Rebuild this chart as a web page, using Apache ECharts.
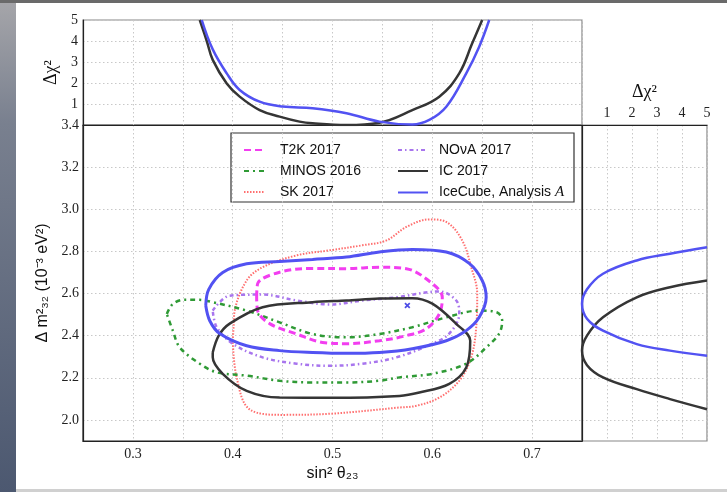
<!DOCTYPE html>
<html>
<head>
    <meta charset="utf-8">
    <title>ECharts</title>
    <script src="https://cdn.jsdelivr.net/npm/echarts@6/dist/echarts.min.js"></script>
</head>
<body style="margin:0;background:#fff">
    <div id="main" style="width: 727px;height:492px;"></div>
    <script>
        var myChart = echarts.init(document.getElementById("main"));

        // contour points, [sin2theta23, dm2_32]
        var t2k = [[0.424,2.582],[0.425,2.647],[0.447,2.701],[0.48,2.719],[0.514,2.718],[0.547,2.725],[0.574,2.718],[0.6,2.647],[0.61,2.582],[0.607,2.503],[0.594,2.433],[0.574,2.4],[0.547,2.376],[0.514,2.362],[0.49,2.368],[0.464,2.408],[0.437,2.457],[0.425,2.519],[0.424,2.582]];
        var minos = [[0.334,2.503],[0.34,2.55],[0.352,2.571],[0.367,2.57],[0.38,2.559],[0.414,2.519],[0.447,2.463],[0.48,2.408],[0.514,2.392],[0.547,2.408],[0.58,2.44],[0.614,2.487],[0.647,2.519],[0.665,2.51],[0.67,2.47],[0.667,2.41],[0.654,2.344],[0.634,2.267],[0.6,2.219],[0.567,2.202],[0.547,2.186],[0.514,2.178],[0.48,2.178],[0.447,2.186],[0.414,2.21],[0.384,2.226],[0.367,2.267],[0.347,2.344],[0.34,2.424],[0.334,2.503]];
        var sk = [[0.4,2.376],[0.401,2.45],[0.402,2.519],[0.414,2.662],[0.43,2.725],[0.464,2.781],[0.497,2.805],[0.53,2.829],[0.554,2.852],[0.574,2.916],[0.597,2.952],[0.614,2.94],[0.63,2.852],[0.639,2.725],[0.645,2.6],[0.644,2.44],[0.639,2.297],[0.627,2.186],[0.607,2.106],[0.584,2.067],[0.567,2.059],[0.5,2.03],[0.45,2.024],[0.417,2.05],[0.404,2.2],[0.4,2.376]];
        var nova = [[0.38,2.519],[0.397,2.59],[0.43,2.595],[0.464,2.567],[0.497,2.548],[0.53,2.567],[0.564,2.582],[0.607,2.61],[0.624,2.567],[0.627,2.503],[0.617,2.41],[0.6,2.362],[0.564,2.297],[0.53,2.267],[0.497,2.257],[0.464,2.267],[0.43,2.297],[0.4,2.362],[0.384,2.44],[0.38,2.519]];
        var ic = [[0.38,2.32],[0.386,2.4],[0.397,2.457],[0.43,2.535],[0.48,2.559],[0.514,2.567],[0.547,2.576],[0.58,2.578],[0.6,2.552],[0.624,2.456],[0.638,2.376],[0.634,2.249],[0.617,2.171],[0.587,2.13],[0.567,2.114],[0.5,2.105],[0.447,2.106],[0.414,2.138],[0.39,2.219],[0.38,2.297],[0.38,2.32]];
        var iceA = [[0.373,2.543],[0.376,2.62],[0.39,2.7],[0.414,2.741],[0.447,2.752],[0.48,2.762],[0.514,2.773],[0.547,2.797],[0.58,2.809],[0.614,2.797],[0.637,2.743],[0.65,2.662],[0.654,2.582],[0.647,2.487],[0.634,2.424],[0.614,2.376],[0.58,2.338],[0.547,2.32],[0.514,2.316],[0.48,2.32],[0.447,2.329],[0.414,2.352],[0.387,2.41],[0.377,2.471],[0.373,2.543]];
        var bestFit = [[0.575, 2.543]];

        // top panel: [sin2theta23, dchi2]
        var topIC = [[0.367,5],[0.374,4],[0.38,3.1],[0.394,1.98],[0.407,1.35],[0.427,0.71],[0.447,0.4],[0.467,0.16],[0.48,0.08],[0.514,0],[0.547,0.11],[0.58,0.71],[0.607,1.35],[0.627,2.46],[0.64,3.89],[0.65,5]];
        var topIceA = [[0.369,5],[0.38,3.6],[0.394,2.46],[0.407,1.67],[0.427,1.11],[0.45,0.88],[0.48,0.8],[0.514,0.56],[0.547,0.16],[0.58,0.02],[0.597,0.24],[0.614,0.87],[0.634,2.46],[0.647,3.73],[0.657,5]];

        // right panel: [dchi2, dm2_32]
        var sideIceA = [[5,2.82],[3.52,2.789],[2.19,2.757],[0.84,2.694],[0.2,2.62],[0,2.551],[0.2,2.48],[0.84,2.424],[2.19,2.36],[3.52,2.329],[5,2.305]];
        var sideIC = [[5,2.662],[3.52,2.63],[2.19,2.582],[0.84,2.487],[0.2,2.4],[0,2.329],[0.2,2.26],[0.84,2.202],[2.19,2.146],[3.52,2.099],[5,2.051]];

        var xGrid = [0.25,0.3,0.35,0.4,0.45,0.5,0.55,0.6,0.65,0.7,0.75];
        var xLabels = [0.3,0.4,0.5,0.6,0.7];
        var yTicks = [2.0,2.2,2.4,2.6,2.8,3.0,3.2,3.4];
        var chiTicks = [1,2,3,4,5];

        var serif = 'Liberation Serif';
        var sans = 'Liberation Sans';
        var gridLine = { show: true, lineStyle: { color: '#c8c8c8', type: [1.5, 2.5], width: 1 } };
        var tickFont = { fontFamily: serif, fontSize: 14, color: '#222' };

        var colors = {
            t2k: '#f23ef0', minos: '#2f9a35', sk: '#ff6f6f',
            nova: '#a875ee', ic: '#353535', iceA: '#5252f2'
        };

        function contour(name, data, color, type, width) {
            return {
                name: name, type: 'line', data: data, smooth: 0.35,
                symbol: 'none', xAxisIndex: 0, yAxisIndex: 0,
                lineStyle: { color: color, type: type, width: width },
                itemStyle: { color: color }, z: 3
            };
        }

        var noDot = { color: 'rgba(0,0,0,0)', borderColor: 'rgba(0,0,0,0)', borderWidth: 0 };

        option = {
            animation: false,
            graphic: [
                { type: 'rect', shape: { x: 0, y: 0, width: 16, height: 492 },
                  style: { fill: new echarts.graphic.LinearGradient(0, 0, 0, 1, [
                      { offset: 0, color: '#a6a6aa' }, { offset: 0.25, color: '#79808f' },
                      { offset: 1, color: '#4c5870' }]) } },
                { type: 'rect', shape: { x: 0, y: 0, width: 727, height: 3 }, style: { fill: '#6a6a6a' } },
                { type: 'rect', shape: { x: 16, y: 489, width: 711, height: 3 }, style: { fill: '#d0d0d0' } },
                { type: 'rect', z: 0, shape: { x: 231, y: 133, width: 343, height: 69 },
                  style: { fill: '#fff', stroke: '#333', lineWidth: 1.2 } }
            ],
            grid: [
                { left: 83, top: 125, width: 499, height: 316, show: true, borderColor: '#222', borderWidth: 1.2 },
                { left: 83, top: 20, width: 499, height: 105, show: true, borderColor: '#888', borderWidth: 1.2 },
                { left: 582, top: 125, width: 125, height: 316, show: true, borderColor: '#888', borderWidth: 1.2 }
            ],
            xAxis: [
                { gridIndex: 0, type: 'value', min: 0.25, max: 0.75,
                  name: 'sin² θ₂₃', nameLocation: 'middle', nameGap: 20,
                  nameTextStyle: { fontFamily: sans, fontSize: 16, color: '#111', verticalAlign: 'top' },
                  axisLine: { lineStyle: { color: '#222', width: 1.2 } },
                  axisTick: { show: false, customValues: xGrid },
                  axisLabel: Object.assign({ customValues: xLabels, margin: 6,
                      formatter: function (v) { return v.toFixed(1); } }, tickFont),
                  splitLine: gridLine },
                { gridIndex: 1, type: 'value', min: 0.25, max: 0.75,
                  axisLine: { lineStyle: { color: '#222', width: 1.2 } },
                  axisTick: { show: false, customValues: xGrid },
                  axisLabel: { show: false },
                  splitLine: gridLine },
                { gridIndex: 2, type: 'value', min: 0, max: 5, position: 'top',
                  name: 'Δχ²', nameLocation: 'middle', nameGap: 24,
                  nameTextStyle: { fontFamily: serif, fontSize: 18, color: '#111' },
                  axisLine: { lineStyle: { color: '#222', width: 1.2 } },
                  axisTick: { show: false, customValues: chiTicks },
                  axisLabel: Object.assign({ customValues: chiTicks, margin: 5 }, tickFont),
                  splitLine: gridLine }
            ],
            yAxis: [
                { gridIndex: 0, type: 'value', min: 1.9, max: 3.4,
                  name: 'Δ m²₃₂ (10⁻³ eV²)', nameLocation: 'middle', nameGap: 30,
                  nameTextStyle: { fontFamily: sans, fontSize: 16, color: '#111' },
                  axisLine: { show: true, lineStyle: { color: '#222', width: 1.2 } },
                  axisTick: { show: false, customValues: yTicks },
                  axisLabel: Object.assign({ customValues: yTicks, margin: 4,
                      formatter: function (v) { return v.toFixed(1); } }, tickFont),
                  splitLine: gridLine },
                { gridIndex: 1, type: 'value', min: 0, max: 5,
                  name: 'Δχ²', nameLocation: 'middle', nameGap: 14,
                  nameTextStyle: { fontFamily: serif, fontSize: 18, color: '#111' },
                  axisLine: { show: true, lineStyle: { color: '#222', width: 1.2 } },
                  axisTick: { show: false, customValues: chiTicks },
                  axisLabel: Object.assign({ customValues: chiTicks, margin: 5 }, tickFont),
                  splitLine: gridLine },
                { gridIndex: 2, type: 'value', min: 1.9, max: 3.4,
                  axisLine: { show: true, lineStyle: { color: '#222', width: 1.2 } },
                  axisTick: { show: false, customValues: yTicks },
                  axisLabel: { show: false },
                  splitLine: gridLine }
            ],
            legend: [
                { left: 238, top: 138, orient: 'vertical', itemWidth: 20, itemHeight: 14, itemGap: 7,
                  itemStyle: noDot,
                  data: ['T2K 2017', 'MINOS 2016', 'SK 2017'],
                  textStyle: { fontFamily: sans, fontSize: 14, color: '#111', padding: [0, 0, 0, 11] } },
                { left: 392, top: 138, orient: 'vertical', itemWidth: 30, itemHeight: 14, itemGap: 7,
                  itemStyle: noDot,
                  data: ['NOνA 2017', 'IC 2017', 'IceCube, Analysis A'],
                  formatter: function (name) {
                      return name === 'IceCube, Analysis A' ? 'IceCube, Analysis {s|A}' : name;
                  },
                  textStyle: { fontFamily: sans, fontSize: 14, color: '#111', padding: [0, 0, 0, 6],
                      rich: { s: { fontFamily: serif, fontStyle: 'italic', fontSize: 15, color: '#111' } } } }
            ],
            series: [
                contour('SK 2017', sk, colors.sk, [1.5, 1.5], 2),
                contour('MINOS 2016', minos, colors.minos, [5, 4, 2, 4], 2.5),
                contour('NOνA 2017', nova, colors.nova, [4, 3, 1.5, 3], 2.5),
                contour('T2K 2017', t2k, colors.t2k, [7, 4], 3),
                contour('IC 2017', ic, colors.ic, 'solid', 2.5),
                contour('IceCube, Analysis A', iceA, colors.iceA, 'solid', 3),
                { type: 'scatter', data: bestFit, xAxisIndex: 0, yAxisIndex: 0, z: 5,
                  symbol: 'path://M0,2L2,0L5,3L8,0L10,2L7,5L10,8L8,10L5,7L2,10L0,8L3,5Z', symbolSize: 6,
                  itemStyle: { color: '#2020e0' } },
                { name: 'IC 2017', type: 'line', data: topIC, smooth: 0.4, symbol: 'none',
                  xAxisIndex: 1, yAxisIndex: 1, lineStyle: { color: colors.ic, width: 2.5 } },
                { name: 'IceCube, Analysis A', type: 'line', data: topIceA, smooth: 0.4, symbol: 'none',
                  xAxisIndex: 1, yAxisIndex: 1, lineStyle: { color: colors.iceA, width: 2.5 } },
                { name: 'IC 2017', type: 'line', data: sideIC, smooth: 0.4, symbol: 'none',
                  xAxisIndex: 2, yAxisIndex: 2, lineStyle: { color: colors.ic, width: 2.5 } },
                { name: 'IceCube, Analysis A', type: 'line', data: sideIceA, smooth: 0.4, symbol: 'none',
                  xAxisIndex: 2, yAxisIndex: 2, lineStyle: { color: colors.iceA, width: 2.5 } }
            ]
        };

        myChart.setOption(option);
    </script>
</body>
</html>
